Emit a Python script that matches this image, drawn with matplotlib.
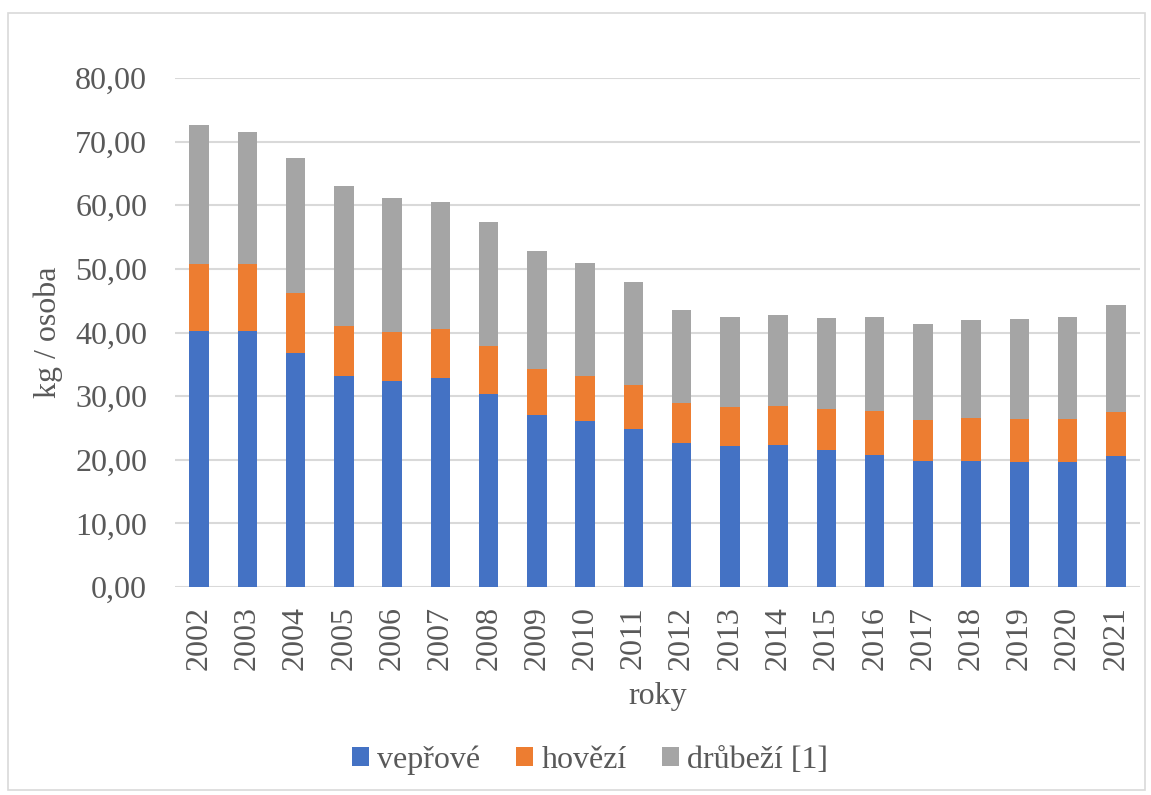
import matplotlib
matplotlib.use("Agg")
import matplotlib.pyplot as plt
from matplotlib.patches import Rectangle
import numpy as np

years = ["2002", "2003", "2004", "2005", "2006", "2007", "2008", "2009", "2010", "2011",
         "2012", "2013", "2014", "2015", "2016", "2017", "2018", "2019", "2020", "2021"]
veprove = [40.2, 40.3, 36.8, 33.1, 32.3, 32.9, 30.3, 27.0, 26.1, 24.9,
           22.7, 22.1, 22.3, 21.5, 20.8, 19.8, 19.8, 19.6, 19.7, 20.6]
hovezi = [10.6, 10.5, 9.4, 7.9, 7.7, 7.7, 7.6, 7.3, 7.0, 6.8,
          6.2, 6.2, 6.2, 6.4, 6.8, 6.4, 6.7, 6.8, 6.7, 6.9]
drubezi = [21.8, 20.7, 21.3, 22.1, 21.1, 19.9, 19.4, 18.5, 17.9, 16.2,
           14.6, 14.1, 14.2, 14.4, 14.8, 15.1, 15.5, 15.7, 16.0, 16.9]
series_names = ["vepřové", "hovězí", "drůbeží [1]"]
colors = ["#4472C4", "#ED7D31", "#A5A5A5"]
yticks = [0, 10, 20, 30, 40, 50, 60, 70, 80]

plt.rcParams['font.family'] = ['Liberation Serif', 'DejaVu Serif']
txt = "#595959"
fs = 23

fig = plt.figure(figsize=(11.51, 7.95), dpi=100)
ax = fig.add_axes([175/1151, 1-587/795, (1140-175)/1151, (587-78)/795])

x = np.arange(len(years))
v = np.array(veprove); h = np.array(hovezi); d = np.array(drubezi)
w = 0.4
ax.bar(x, v, w, color=colors[0], label=series_names[0], zorder=3)
ax.bar(x, h, w, bottom=v, color=colors[1], label=series_names[1], zorder=3)
ax.bar(x, d, w, bottom=v + h, color=colors[2], label=series_names[2], zorder=3)

ax.set_xlim(-0.5, len(years) - 0.5)
ax.set_ylim(0, 80)
ax.set_yticks(yticks)
ax.set_yticklabels([f"{t:.2f}".replace(".", ",") for t in yticks], fontsize=fs, color=txt)
ax.set_xticks(x)
ax.set_xticklabels(years, rotation=90, fontsize=fs, color=txt)
ax.tick_params(axis='both', length=0)
ax.tick_params(axis='y', pad=20)
ax.tick_params(axis='x', pad=14)
ax.grid(axis='y', color="#D9D9D9", lw=1.5, zorder=0)
for s in ax.spines.values():
    s.set_visible(False)

ax.set_ylabel("kg / osoba", fontsize=fs, color=txt, labelpad=9)
ax.set_xlabel("roky", fontsize=fs, color=txt, labelpad=8)

leg = fig.legend(loc='center', bbox_to_anchor=(590/1151, 1-760/795), ncol=3, frameon=False,
                 fontsize=fs, handlelength=0.55, handleheight=0.55, handletextpad=0.25,
                 columnspacing=1.1)
for t in leg.get_texts():
    t.set_color(txt)

fig.patches.append(Rectangle((8/1151, 1-790/795), (1145-8)/1151, (790-13)/795,
                             transform=fig.transFigure, fill=False, edgecolor="#D9D9D9", lw=1.2))

fig.savefig("out.png", dpi=100)
